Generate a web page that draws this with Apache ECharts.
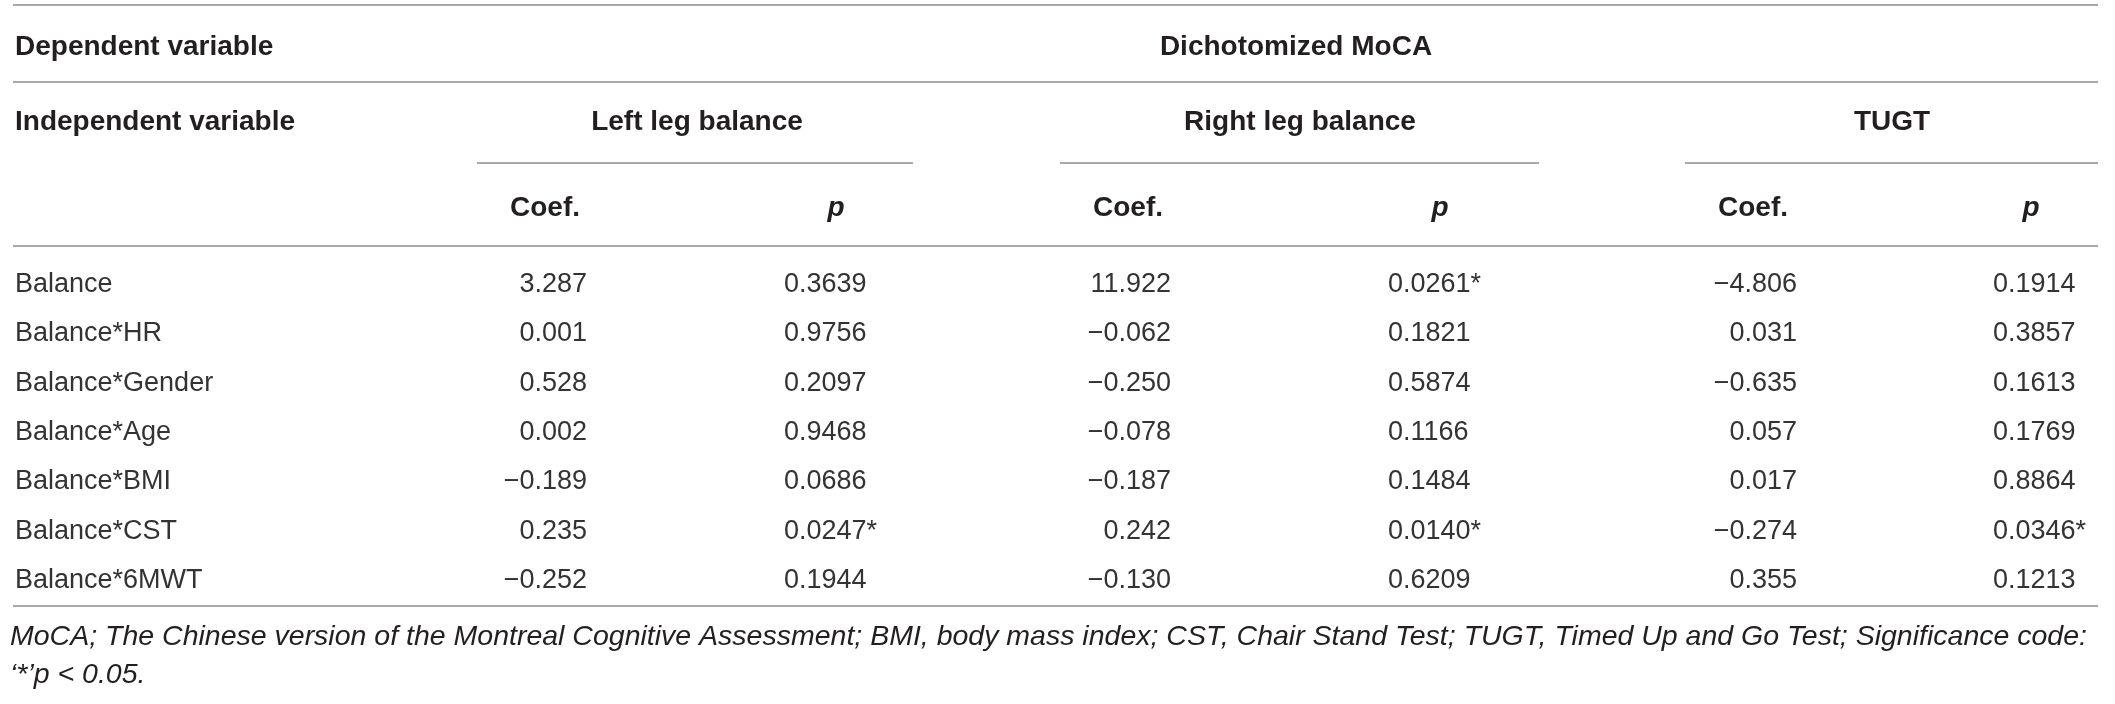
<!DOCTYPE html>
<html>
<head>
<meta charset="utf-8">
<title>Dichotomized MoCA</title>
<script src="https://cdn.jsdelivr.net/npm/echarts@6/dist/echarts.min.js"></script>
<style>
  html, body { margin: 0; padding: 0; background: #fff; }
  #chart { width: 2115px; height: 704px; }
</style>
</head>
<body>
<div id="chart"></div>
<script>
// table values
const rowLabels = ['Balance', 'Balance*HR', 'Balance*Gender', 'Balance*Age', 'Balance*BMI', 'Balance*CST', 'Balance*6MWT'];
const leftCoef = [3.287, 0.001, 0.528, 0.002, -0.189, 0.235, -0.252];
const leftP = [0.3639, 0.9756, 0.2097, 0.9468, 0.0686, 0.0247, 0.1944];
const rightCoef = [11.922, -0.062, -0.250, -0.078, -0.187, 0.242, -0.130];
const rightP = [0.0261, 0.1821, 0.5874, 0.1166, 0.1484, 0.0140, 0.6209];
const tugtCoef = [-4.806, 0.031, -0.635, 0.057, 0.017, -0.274, 0.355];
const tugtP = [0.1914, 0.3857, 0.1613, 0.1769, 0.8864, 0.0346, 0.1213];

const depLabel = 'Dependent variable';
const depTitle = 'Dichotomized MoCA';
const indepLabel = 'Independent variable';
const groupTitles = ['Left leg balance', 'Right leg balance', 'TUGT'];
const subHeads = ['Coef.', 'p'];
const footLines = [
  'MoCA; The Chinese version of the Montreal Cognitive Assessment; BMI, body mass index; CST, Chair Stand Test; TUGT, Timed Up and Go Test; Significance code:',
  '\u2018*\u2019p < 0.05.'
];

// layout (pixels)
const FONT = '"Liberation Sans", Arial, sans-serif';
const INK = '#231f20';
const BODY_INK = '#333';
const RULE = '#8c8c8c';
const tableL = 13, tableR = 2098;
const groupCenter = [697, 1300, 1892];
const groupRule = [[477, 913], [1060, 1539], [1685, 2098]];
const coefHeadX = [545, 1128, 1753];
const pHeadX = [836, 1440, 2031];
const coefRight = [587, 1171, 1797];
const pLeft = [784, 1388, 1993];

const chart = echarts.init(document.getElementById('chart'), null, { renderer: 'canvas' });

function fmtCoef(v) {
  return (v < 0 ? '\u2212' : '') + Math.abs(v).toFixed(3);
}
function fmtP(v) {
  return v.toFixed(4) + (v < 0.05 ? '*' : '');
}

// one custom series per table column, rows placed by the category y axis
function cellSeries(values, x, align, fmt) {
  return {
    type: 'custom',
    coordinateSystem: 'cartesian2d',
    data: values.map((v, i) => [x, i, v]),
    encode: { x: 0, y: 1 },
    silent: true,
    renderItem: (params, api) => {
      const pt = api.coord([api.value(0), api.value(1)]);
      return {
        type: 'text',
        x: pt[0],
        y: pt[1],
        style: {
          text: fmt(values[params.dataIndex]),
          align: align,
          verticalAlign: 'middle',
          fill: BODY_INK,
          font: '27px ' + FONT
        }
      };
    }
  };
}

function label(text, x, y, opts) {
  opts = opts || {};
  return {
    type: 'text',
    x: x,
    y: y,
    silent: true,
    style: {
      text: text,
      align: opts.align || 'left',
      verticalAlign: 'middle',
      fill: INK,
      font: (opts.italic ? 'italic ' : '') + (opts.bold === false ? '' : 'bold ') + (opts.size || 28) + 'px ' + FONT
    }
  };
}

function rule(x1, x2, y) {
  return {
    type: 'line',
    silent: true,
    shape: { x1: x1, y1: y, x2: x2, y2: y },
    style: { stroke: RULE, lineWidth: 1.6 }
  };
}

const graphics = [
  rule(tableL, tableR, 5),
  label(depLabel, 15, 47),
  label(depTitle, 1296, 47, { align: 'center' }),
  rule(tableL, tableR, 82),
  label(indepLabel, 15, 122),
  rule(tableL, tableR, 246),
  rule(tableL, tableR, 606)
];
groupTitles.forEach((t, i) => {
  graphics.push(label(t, groupCenter[i], 122, { align: 'center' }));
  graphics.push(rule(groupRule[i][0], groupRule[i][1], 163));
  graphics.push(label(subHeads[0], coefHeadX[i], 208, { align: 'center' }));
  graphics.push(label(subHeads[1], pHeadX[i], 208, { align: 'center', italic: true }));
});
footLines.forEach((t, i) => {
  graphics.push(label(t, 10, 637 + i * 38, { bold: false, italic: true, size: 28.5 }));
});

const series = [];
for (let g = 0; g < 3; g++) {
  const coefs = [leftCoef, rightCoef, tugtCoef][g];
  const ps = [leftP, rightP, tugtP][g];
  series.push(cellSeries(coefs, coefRight[g], 'right', fmtCoef));
  series.push(cellSeries(ps, pLeft[g], 'left', fmtP));
}

const option = {
  animation: false,
  backgroundColor: '#fff',
  grid: { left: 0, right: 0, top: 260, height: 345, containLabel: false },
  xAxis: { type: 'value', min: 0, max: 2115, show: false },
  yAxis: {
    type: 'category',
    data: rowLabels,
    inverse: true,
    axisLine: { show: false },
    axisTick: { show: false },
    splitLine: { show: false },
    axisLabel: {
      inside: true,
      margin: 15,
      align: 'left',
      color: BODY_INK,
      fontSize: 27,
      fontFamily: FONT
    }
  },
  series: series,
  graphic: graphics
};

chart.setOption(option);
window.addEventListener('resize', () => chart.resize());
</script>
</body>
</html>
